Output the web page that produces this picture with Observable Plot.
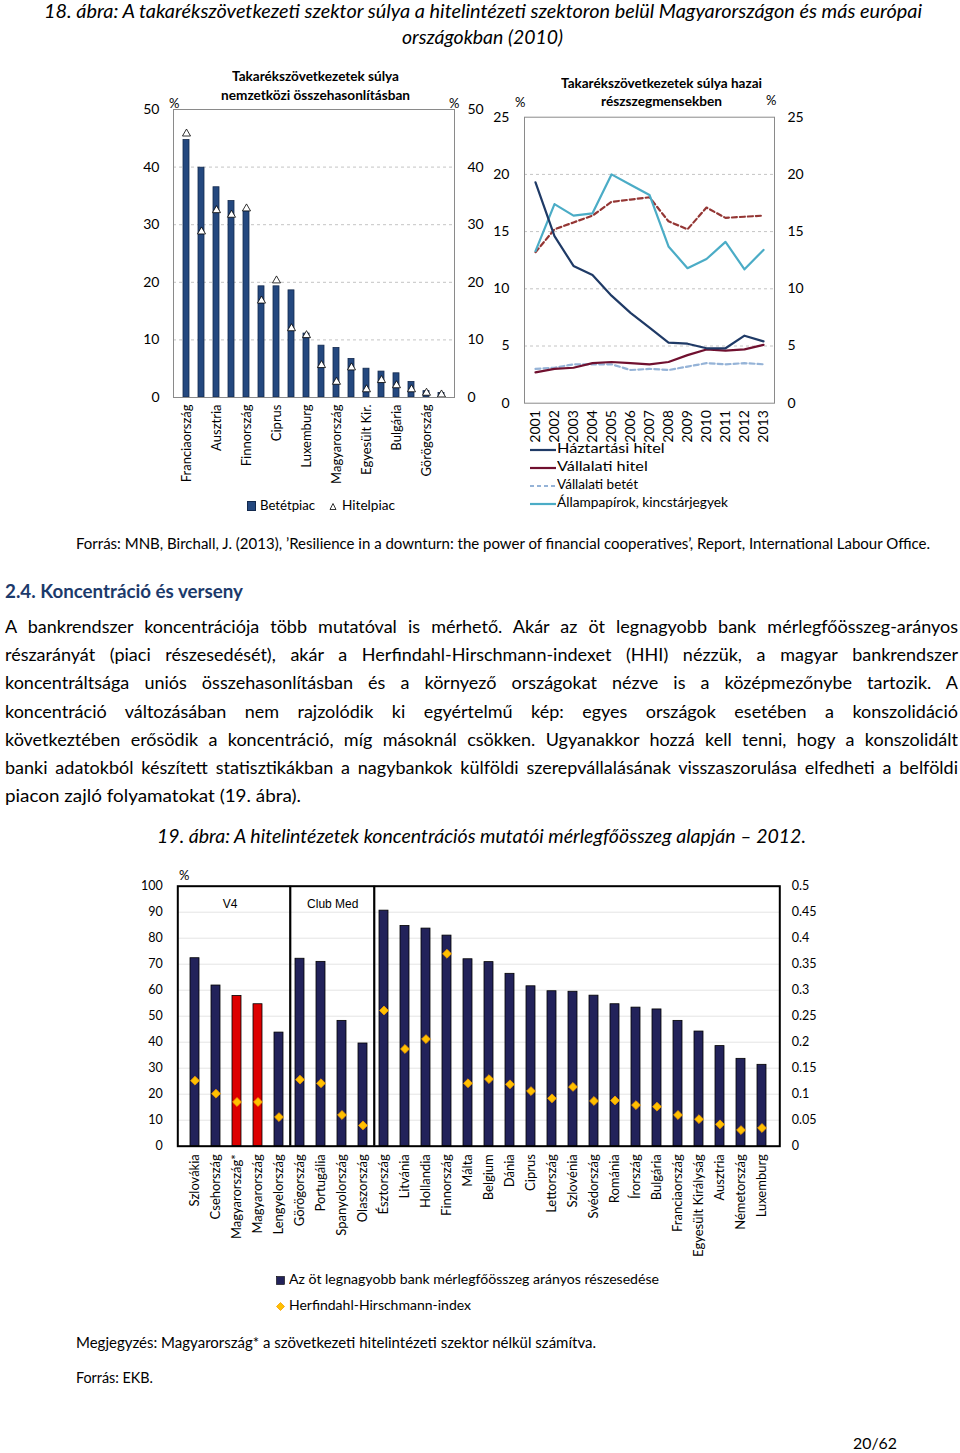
<!DOCTYPE html>
<html><head><meta charset="utf-8">
<script src="https://cdn.jsdelivr.net/npm/d3@7"></script>
<script src="https://cdn.jsdelivr.net/npm/@observablehq/plot@0.6"></script>
<style>
body{margin:0;background:#fff;}
#page{position:relative;width:960px;height:1453px;overflow:hidden;font-family:Lato,"Open Sans",sans-serif;color:#000;background:#fff;}
.t{position:absolute;white-space:nowrap;}
.p{position:absolute;line-height:0;}
.p svg{overflow:visible;display:block;}
</style></head><body><div id="page"></div>
<script>
// ---------- DATA ----------
// Figure 18, left: weight of savings cooperatives, international comparison (%)
const tlLabels = ["Franciaország","","Ausztria","","Finnország","","Ciprus","","Luxemburg","","Magyarország","","Egyesült Kir.","","Bulgária","","Görögország",""];
const tlBetetpiac = [44.7,39.9,36.5,34.1,32.4,19.3,19.3,18.6,11.1,9.0,8.6,6.7,5.0,4.5,4.2,2.7,1.1,0.8];
const tlHitelpiac = [45.8,28.8,32.5,31.7,32.8,16.8,20.3,12.0,10.8,5.6,2.7,5.2,1.4,3.0,2.1,1.4,0.8,0.5];
const tlTicks = [0,10,20,30,40,50];

// Figure 18, right: weight in domestic sub-segments (%)
const years = [2001,2002,2003,2004,2005,2006,2007,2008,2009,2010,2011,2012,2013];
const haztartasiHitel = [19.3,14.6,12.0,11.2,9.4,7.9,6.6,5.3,5.2,4.8,4.8,5.9,5.4];
const vallalatiHitel  = [2.7,3.0,3.1,3.5,3.6,3.5,3.4,3.6,4.2,4.7,4.6,4.7,5.1];
const vallalatiBetet  = [3.0,3.1,3.4,3.4,3.4,2.9,3.0,2.9,3.2,3.5,3.4,3.5,3.4];
const lakossagiBetet  = [13.2,15.2,15.8,16.4,17.6,17.8,18.0,15.9,15.2,17.1,16.2,16.3,16.4];
const allampapirok    = [13.3,17.4,16.4,16.6,20.0,19.1,18.2,13.7,11.8,12.6,14.1,11.7,13.4];
const trTicks = [0,5,10,15,20,25];

// Figure 19: concentration indicators, 2012
const countries = ["Szlovákia","Csehország","Magyarország*","Magyarország","Lengyelország","Görögország","Portugália","Spanyolország","Olaszország","Észtország","Litvánia","Hollandia","Finnország","Málta","Belgium","Dánia","Ciprus","Lettország","Szlovénia","Svédország","Románia","Írország","Bulgária","Franciaország","Egyesült Királyság","Ausztria","Németország","Luxemburg"];
const top5Share = [72.3,61.8,57.8,54.6,43.7,72.1,70.9,48.2,39.5,90.6,84.7,83.7,81.0,71.9,70.8,66.3,61.5,59.6,59.4,57.9,54.6,53.3,52.6,48.2,44.1,38.5,33.6,31.3];
const hhiValues = [0.126,0.101,0.085,0.085,0.056,0.128,0.121,0.060,0.040,0.261,0.187,0.206,0.370,0.121,0.129,0.119,0.106,0.092,0.114,0.087,0.088,0.079,0.076,0.060,0.052,0.042,0.031,0.035];
const highlighted = ["Magyarország*","Magyarország"];
const groupStarts = ["Görögország","Észtország"];
const groupLabels = ["V4","Club Med"];
const bTicks = [0,10,20,30,40,50,60,70,80,90,100];
const hhiTickLabels = ["0","0.05","0.1","0.15","0.2","0.25","0.3","0.35","0.4","0.45","0.5"];

// ---------- HELPERS ----------
const page = document.getElementById("page");
function addText(str, left, cy, width, size, opts = {}) {
  const el = document.createElement("div");
  el.className = "t";
  el.textContent = str;
  el.style.fontSize = size + "px";
  el.style.lineHeight = size + "px";
  el.style.left = left + "px";
  el.style.top = (cy - 0.53 * size) + "px";
  if (opts.italic) el.style.fontStyle = "italic";
  if (opts.bold) el.style.fontWeight = "bold";
  if (opts.color) el.style.color = opts.color;
  if (opts.family) el.style.fontFamily = opts.family;
  page.appendChild(el);
  const w = el.getBoundingClientRect().width;
  if (width) {
    if (opts.justify && w < width) {
      const n = (str.match(/ /g) || []).length;
      el.style.wordSpacing = ((width - w) / n) + "px";
    } else {
      let k = width / w; k = Math.max(0.7, Math.min(1.3, k));
      el.style.transformOrigin = "0 50%";
      el.style.transform = `scaleX(${k})`;
    }
  }
  return el;
}
function place(node, left, top) {
  const d = document.createElement("div");
  d.className = "p"; d.style.left = left + "px"; d.style.top = top + "px";
  d.appendChild(node); page.appendChild(d);
}
function swatch(svgInner, left, top, w, h) {
  const d = document.createElement("div");
  d.className = "p"; d.style.left = left + "px"; d.style.top = top + "px";
  d.innerHTML = `<svg width="${w}" height="${h}" xmlns="http://www.w3.org/2000/svg">${svgInner}</svg>`;
  page.appendChild(d);
}

// ---------- TEXT: figure 18 ----------
addText("18. ábra: A takarékszövetkezeti szektor súlya a hitelintézeti szektoron belül Magyarországon és más európai", 44, 11, 878, 19.5, {italic: true});
addText("országokban (2010)", 402, 37, 161, 19.5, {italic: true});

addText("Takarékszövetkezetek súlya", 232, 78, 167, 12.5, {bold: true});
addText("nemzetközi összehasonlításban", 221, 97, 189, 12.5, {bold: true});
addText("%", 169, 104, 0, 13);
addText("%", 449, 104, 0, 13);

addText("Takarékszövetkezetek súlya hazai", 561, 85, 201, 12.5, {bold: true});
addText("részszegmensekben", 601, 103, 121, 12.5, {bold: true});
addText("%", 515, 103, 0, 13);
addText("%", 766, 101, 0, 13);

// legends figure 18
swatch(`<rect x="0.5" y="0.5" width="8" height="9" fill="#24487F" stroke="#13294D"/>`, 247, 501, 10, 11);
addText("Betétpiac", 260, 506, 55, 13);
swatch(`<path d="M4,1.5 L7,7.5 L1,7.5 Z" fill="#fff" stroke="#000" stroke-width="0.8"/>`, 329, 502, 9, 9);
addText("Hitelpiac", 342, 506, 53, 13);

const trLegend = [
  ["Háztartási hitel", "#1F3A66", "", 450, 118],
  ["Vállalati hitel", "#70102F", "", 468, 104],
  ["Vállalati betét", "#95B3D7", "4,3", 486, 81],
  ["Állampapírok, kincstárjegyek", "#4BACC6", "", 504, 171]
];
for (const [name, col, dash, cy, w] of trLegend) {
  swatch(`<line x1="0" y1="4" x2="26" y2="4" stroke="${col}" stroke-width="2.2" ${dash ? `stroke-dasharray="${dash}"` : ""}/>`, 530, cy - 4, 27, 8);
  addText(name, 557, cy, w, 12.5);
}

addText("Forrás: MNB, Birchall, J. (2013), ’Resilience in a downturn: the power of financial cooperatives’, Report, International Labour Office.", 76, 545, 854, 14.5);

// ---------- TEXT: section ----------
addText("2.4. Koncentráció és verseny", 5, 592, 238, 18.5, {bold: true, color: "#1C3A6B"});
const para = [
  "A bankrendszer koncentrációja több mutatóval is mérhető. Akár az öt legnagyobb bank mérlegfőösszeg-arányos",
  "részarányát (piaci részesedését), akár a Herfindahl-Hirschmann-indexet (HHI) nézzük, a magyar bankrendszer",
  "koncentráltsága uniós összehasonlításban és a környező országokat nézve is a középmezőnybe tartozik. A",
  "koncentráció változásában nem rajzolódik ki egyértelmű kép: egyes országok esetében a konszolidáció",
  "következtében erősödik a koncentráció, míg másoknál csökken. Ugyanakkor hozzá kell tenni, hogy a konszolidált",
  "banki adatokból készített statisztikákban a nagybankok külföldi szerepvállalásának visszaszorulása elfedheti a belföldi"
];
const paraY = [627, 655, 683, 712, 740, 768];
para.forEach((line, i) => addText(line, 5, paraY[i], 953, 18, {justify: true}));
addText("piacon zajló folyamatokat (19. ábra).", 5, 796, 296, 18);

addText("19. ábra: A hitelintézetek koncentrációs mutatói mérlegfőösszeg alapján – 2012.", 157, 836, 649, 19.5, {italic: true});
addText("%", 179, 876, 0, 13);

swatch(`<rect x="0.5" y="0.5" width="8" height="8" fill="#22225A" stroke="#000" stroke-width="0.6"/>`, 276, 1275.5, 10, 10);
addText("Az öt legnagyobb bank mérlegfőösszeg arányos részesedése", 289, 1280, 370, 13.5);
swatch(`<path d="M4.5,0.5 L8.5,4.5 L4.5,8.5 L0.5,4.5 Z" fill="#FFC000" stroke="#F59A00" stroke-width="0.8"/>`, 275.5, 1301.5, 10, 10);
addText("Herfindahl-Hirschmann-index", 289, 1306, 182, 13.5);

addText("Megjegyzés: Magyarország* a szövetkezeti hitelintézeti szektor nélkül számítva.", 76, 1344, 520, 14.5);
addText("Forrás: EKB.", 76, 1379, 77, 14.5);
addText("20/62", 853, 1443, 44, 16);

// ---------- PLOT: figure 18 left ----------
const tlRows = tlBetetpiac.map((v, i) => ({i, betet: v, hitel: tlHitelpiac[i]}));
const tl = Plot.plot({
  width: 360, height: 395,
  marginLeft: 38, marginRight: 41, marginTop: 9, marginBottom: 98,
  style: {fontFamily: "Lato", fontSize: "14px", color: "#000", background: "transparent", overflow: "visible"},
  x: {type: "band", domain: d3.range(tlLabels.length), paddingInner: 0.615, paddingOuter: 0.32},
  y: {domain: [0, 50]},
  marks: [
    Plot.gridY([10, 20, 30, 40], {stroke: "#c4c4c4", strokeOpacity: 1, strokeDasharray: "3,3"}),
    Plot.barY(tlRows, {x: "i", y: "betet", fill: "#24487F", stroke: "#13294D", strokeWidth: 0.8}),
    Plot.dot(tlRows, {x: "i", y: "hitel", symbol: "triangle", r: 3, fill: "#fff", stroke: "#000", strokeWidth: 0.8}),
    Plot.frame({stroke: "#8a8a8a"}),
    Plot.axisY({anchor: "left", ticks: tlTicks, tickSize: 0, tickPadding: 14, fontSize: 14, label: null}),
    Plot.axisY({anchor: "right", ticks: tlTicks, tickSize: 0, tickPadding: 13, fontSize: 14, label: null}),
    Plot.axisX({tickFormat: i => tlLabels[i], tickRotate: -90, tickSize: 0, tickPadding: 7, fontSize: 13, label: null})
  ]
});
place(tl, 135, 100);

// ---------- PLOT: figure 18 right ----------
const series = (vals) => years.map((y, i) => ({year: y, v: vals[i]}));
const tr = Plot.plot({
  width: 330, height: 350,
  marginLeft: 34, marginRight: 46, marginTop: 16.7, marginBottom: 47.3,
  style: {fontFamily: "Lato", fontSize: "14px", color: "#000", background: "transparent", overflow: "visible"},
  x: {type: "point", domain: years, padding: 0.5},
  y: {domain: [0, 25]},
  marks: [
    Plot.gridY([5, 10, 15, 20], {stroke: "#c4c4c4", strokeOpacity: 1, strokeDasharray: "3,3"}),
    Plot.frame({stroke: "#8a8a8a"}),
    Plot.line(series(vallalatiBetet), {x: "year", y: "v", stroke: "#95B3D7", strokeWidth: 2.2, strokeDasharray: "5,3"}),
    Plot.line(series(lakossagiBetet), {x: "year", y: "v", stroke: "#943634", strokeWidth: 2.2, strokeDasharray: "5,3"}),
    Plot.line(series(allampapirok), {x: "year", y: "v", stroke: "#4BACC6", strokeWidth: 2.2}),
    Plot.line(series(vallalatiHitel), {x: "year", y: "v", stroke: "#70102F", strokeWidth: 2.2}),
    Plot.line(series(haztartasiHitel), {x: "year", y: "v", stroke: "#1F3A66", strokeWidth: 2.2}),
    Plot.axisY({anchor: "left", ticks: trTicks, tickSize: 0, tickPadding: 15, fontSize: 14, label: null}),
    Plot.axisY({anchor: "right", ticks: trTicks, tickSize: 0, tickPadding: 13, fontSize: 14, label: null}),
    Plot.axisX({tickFormat: d => String(d), tickRotate: -90, tickSize: 0, tickPadding: 7, fontSize: 14, label: null})
  ]
});
place(tr, 490, 100);

// ---------- PLOT: figure 19 ----------
const bW = 710, bML = 57.3, bMR = 50.7;
const bX = {type: "band", domain: countries, paddingInner: 0.58, paddingOuter: 0.28};
const bScale = Plot.scale({x: {...bX, range: [bML, bW - bMR]}});
const step = bScale.step;
const bRows = countries.map((c, i) => ({country: c, share: top5Share[i], hhi: hhiValues[i]}));
const bp = Plot.plot({
  width: bW, height: 405,
  marginLeft: bML, marginRight: bMR, marginTop: 20.7, marginBottom: 124.3,
  style: {fontFamily: "Lato", fontSize: "12.5px", color: "#000", background: "transparent", overflow: "visible"},
  x: bX,
  y: {domain: [0, 100]},
  marks: [
    Plot.gridY(bTicks.slice(1, -1), {stroke: "#e4e4e4", strokeOpacity: 1}),
    Plot.barY(bRows, {x: "country", y: "share", fill: d => highlighted.includes(d.country) ? "#DD0000" : "#22225A", stroke: "#000", strokeWidth: 0.8}),
    Plot.dot(bRows, {x: "country", y: d => d.hhi * 200, symbol: "diamond2", r: 4, fill: "#FFC000", stroke: "#F59A00", strokeWidth: 0.8}),
    Plot.ruleX(groupStarts, {x: d => d, dx: -step / 2 + 1, stroke: "#000", strokeWidth: 2.2}),
    Plot.frame({stroke: "#000", strokeWidth: 2}),
    Plot.text([groupLabels[0]], {x: () => "Magyarország*", frameAnchor: "top", dy: 13, dx: -7, text: d => d, fontFamily: "Liberation Sans", fontSize: 12}),
    Plot.text([groupLabels[1]], {x: () => "Portugália", frameAnchor: "top", dy: 13, dx: step / 2 + 1, text: d => d, fontFamily: "Liberation Sans", fontSize: 12}),
    Plot.axisY({anchor: "left", ticks: bTicks, tickSize: 0, tickPadding: 15, fontSize: 12.5, label: null}),
    Plot.axisY({anchor: "right", ticks: bTicks, tickFormat: (d) => hhiTickLabels[bTicks.indexOf(d)], tickSize: 0, tickPadding: 12, fontSize: 12.5, label: null}),
    Plot.axisX({tickRotate: -90, tickSize: 0, tickPadding: 8, fontSize: 13, label: null})
  ]
});
place(bp, 120, 865);
</script></body></html>
